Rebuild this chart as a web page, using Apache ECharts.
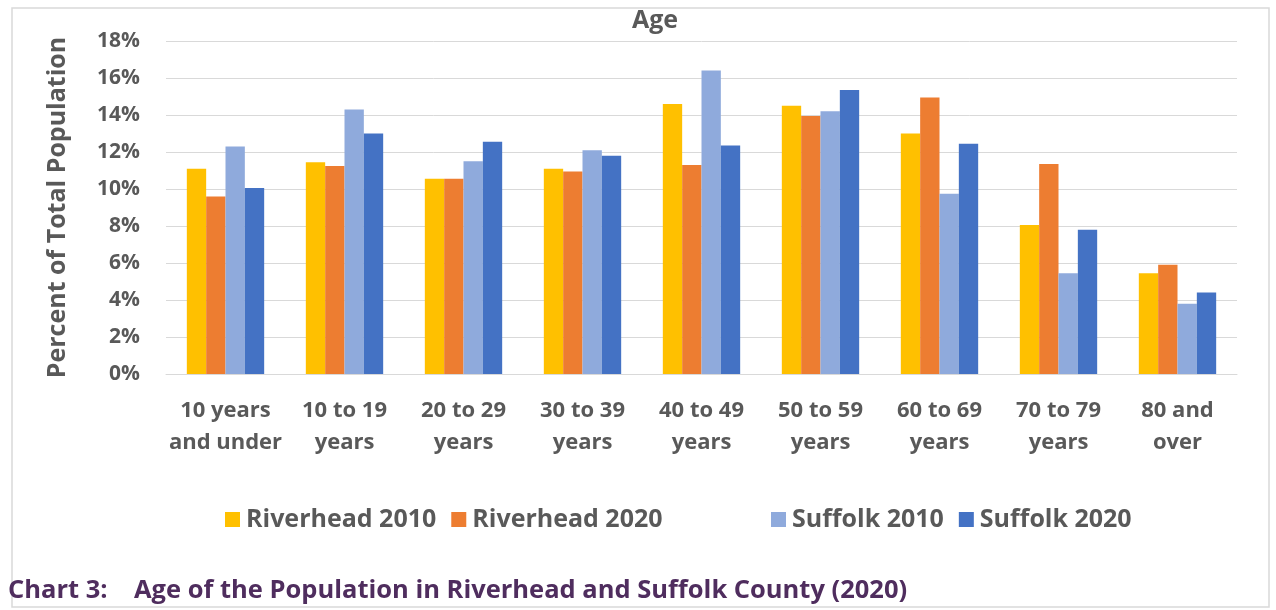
<!DOCTYPE html>
<html>
<head>
<meta charset="utf-8">
<script src="https://cdn.jsdelivr.net/npm/echarts@6/dist/echarts.min.js"></script>
<style>
  html, body { margin: 0; padding: 0; background: #fff; }
  #chart { width: 1276px; height: 610px; }
</style>
</head>
<body>
<div id="chart"></div>
<script>
// age groups on the x axis
const categories = ['10 years\nand under', '10 to 19\nyears', '20 to 29\nyears', '30 to 39\nyears',
  '40 to 49\nyears', '50 to 59\nyears', '60 to 69\nyears', '70 to 79\nyears', '80 and\nover'];

// percent of total population
const riverhead2010 = [11.1, 11.45, 10.55, 11.1, 14.6, 14.5, 13.0, 8.05, 5.45];
const riverhead2020 = [9.6, 11.25, 10.55, 10.95, 11.3, 13.95, 14.95, 11.35, 5.9];
const suffolk2010 = [12.3, 14.3, 11.5, 12.1, 16.4, 14.2, 9.75, 5.45, 3.8];
const suffolk2020 = [10.05, 13.0, 12.55, 11.8, 12.35, 15.35, 12.45, 7.8, 4.4];

const textGray = '#595959';
const font = 'Open Sans';

const chart = echarts.init(document.getElementById('chart'));

const bar = (name, data, color) => ({
  name: name,
  type: 'bar',
  data: data,
  barGap: '0%',
  barCategoryGap: '35%',
  itemStyle: { color: color },
  emphasis: { disabled: true }
});

const legendText = { color: textGray, fontFamily: font, fontWeight: 'bold', fontSize: 25, padding: [0, 0, 0, 1] };

chart.setOption({
  animation: false,
  title: {
    text: 'Age',
    left: 632,
    top: 8,
    padding: 0,
    textStyle: { color: textGray, fontFamily: font, fontWeight: 'bold', fontSize: 25 }
  },
  legend: [
    {
      data: ['Riverhead 2010', 'Riverhead 2020'],
      left: 220,
      top: 502,
      itemWidth: 15,
      itemHeight: 15,
      itemGap: 15,
      icon: 'rect',
      textStyle: legendText
    },
    {
      data: ['Suffolk 2010', 'Suffolk 2020'],
      left: 766,
      top: 502,
      itemWidth: 15,
      itemHeight: 15,
      itemGap: 15,
      icon: 'rect',
      textStyle: legendText
    }
  ],
  grid: { left: 166, right: 39, top: 41, bottom: 236 },
  xAxis: {
    type: 'category',
    data: categories,
    axisLine: { lineStyle: { color: '#d9d9d9', width: 1 } },
    axisTick: { show: false },
    axisLabel: {
      color: textGray, fontFamily: font, fontWeight: 'bold', fontSize: 22,
      lineHeight: 32, margin: 21, interval: 0
    }
  },
  yAxis: {
    type: 'value',
    min: 0,
    max: 18,
    interval: 2,
    name: 'Percent of Total Population',
    nameLocation: 'middle',
    nameGap: 96,
    nameTextStyle: { color: textGray, fontFamily: font, fontWeight: 'bold', fontSize: 25 },
    axisLine: { show: false },
    axisTick: { show: false },
    splitLine: { lineStyle: { color: '#d9d9d9', width: 1 } },
    axisLabel: {
      color: textGray, fontFamily: font, fontWeight: 'bold', fontSize: 21,
      margin: 26, formatter: '{value}%'
    }
  },
  series: [
    bar('Riverhead 2010', riverhead2010, '#FFC000'),
    bar('Riverhead 2020', riverhead2020, '#ED7D31'),
    bar('Suffolk 2010', suffolk2010, '#8FAADC'),
    bar('Suffolk 2020', suffolk2020, '#4472C4')
  ],
  graphic: [
    {
      type: 'rect',
      shape: { x: 12, y: 8, width: 1257, height: 599 },
      style: { fill: 'none', stroke: '#d9d9d9', lineWidth: 1.5 },
      silent: true
    },
    {
      type: 'text',
      left: 8,
      top: 578,
      style: {
        text: 'Chart 3:    Age of the Population in Riverhead and Suffolk County (2020)',
        fill: '#4F2D5E',
        font: 'bold 25.5px "Open Sans"'
      }
    }
  ]
});
</script>
</body>
</html>
